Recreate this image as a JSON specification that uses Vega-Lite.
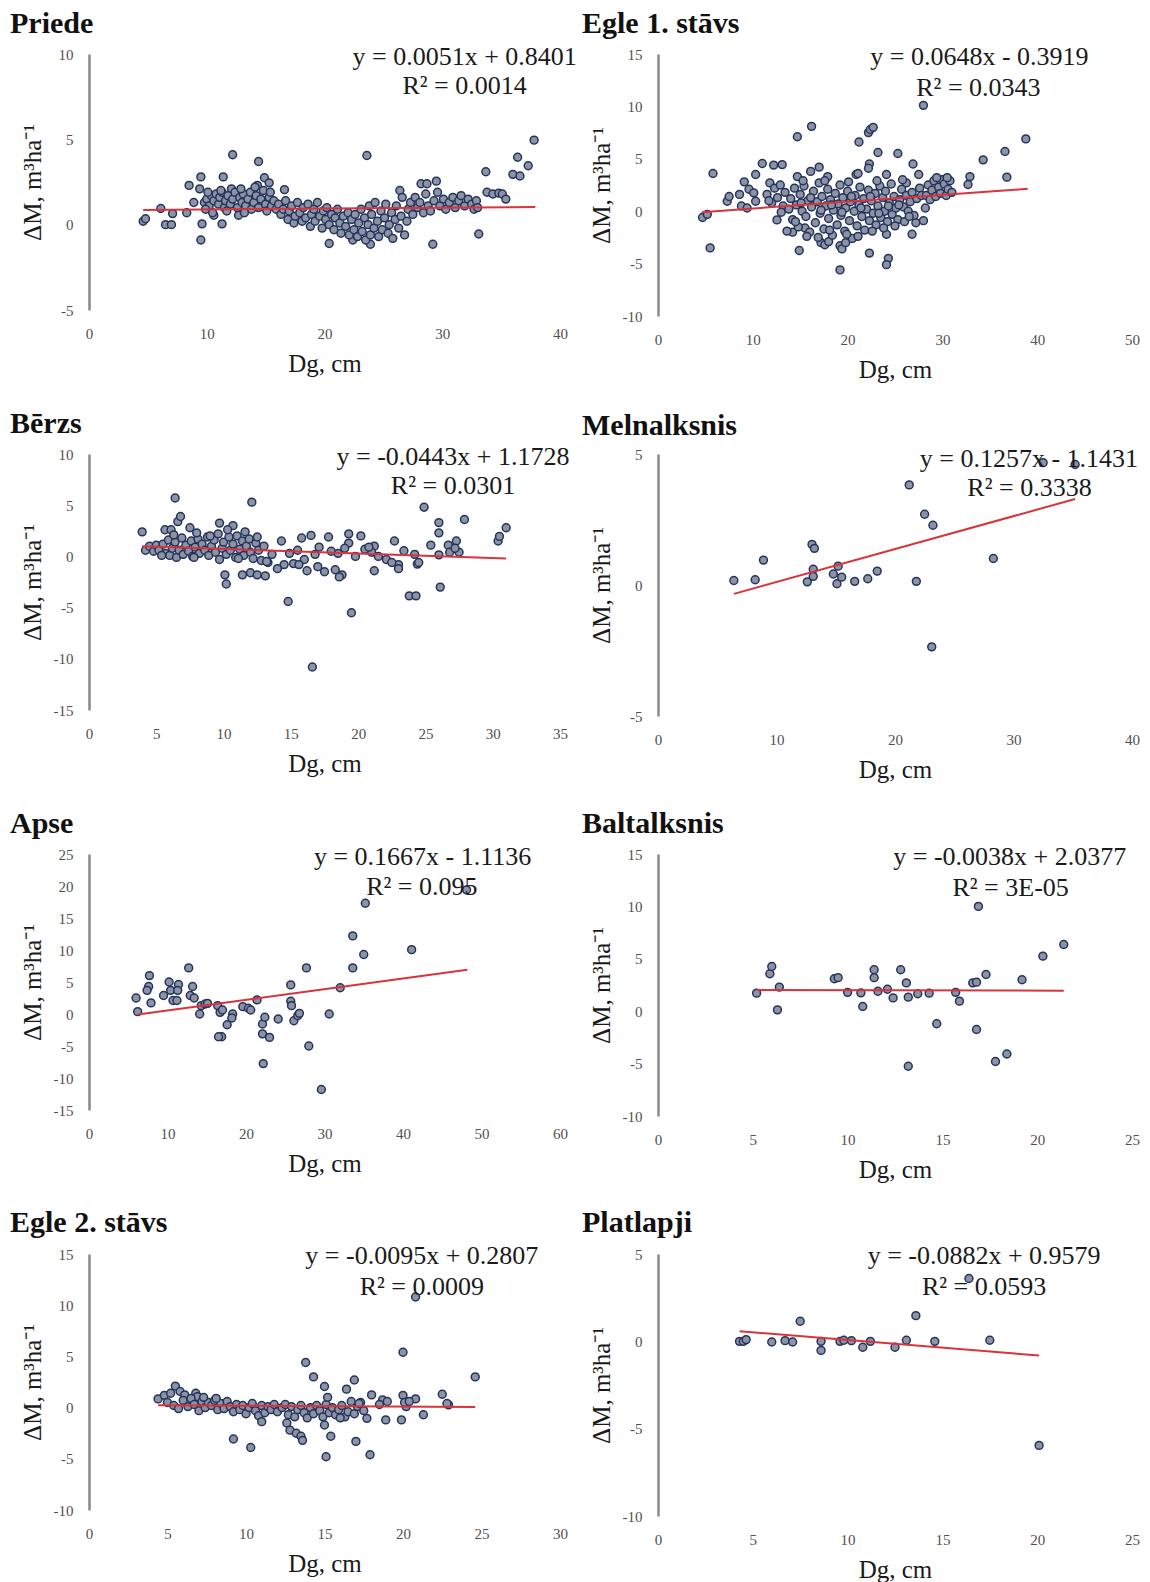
{
"$schema": "https://vega.github.io/schema/vega-lite/v6.json",
"background": "white",
"padding": {"left": 10, "top": 9, "right": 2, "bottom": 2},
"config": {
 "view": {"stroke": null},
 "font": "Liberation Serif",
 "axis": {"grid": false, "ticks": false, "labelFont": "Liberation Serif", "labelFontSize": 15, "labelColor": "#505050", "titleFont": "Liberation Serif", "titleFontSize": 25, "titleFontWeight": "normal", "titleColor": "#1a1a1a", "labelOverlap": false, "labelFlush": false, "labelExpr": "toString(datum.value)"},
 "axisX": {"domain": false, "labelPadding": 16, "titlePadding": 10},
 "axisY": {"domain": true, "domainColor": "#8a8a8a", "domainWidth": 2.5, "labelPadding": 16, "minExtent": 40, "maxExtent": 40, "titlePadding": 4},
 "title": {"font": "Liberation Serif", "fontSize": 30, "fontWeight": "bold", "anchor": "start", "frame": "group", "color": "#111111", "baseline": "alphabetic", "offset": 5},
 "circle": {"size": 62, "fill": "#8d93a3", "stroke": "#22335e", "strokeWidth": 1.5, "opacity": 1},
 "line": {"color": "#d8343b", "strokeWidth": 2},
 "text": {"fontSize": 26, "font": "Liberation Serif", "color": "#1a1a1a", "align": "center", "baseline": "middle"}
},
"datasets": {
 "trend": [
  {"p":"priede","Dg":4.6,"dM":0.863},{"p":"priede","Dg":37.9,"dM":1.033},
  {"p":"egle1","Dg":4.6,"dM":-0.094},{"p":"egle1","Dg":39.0,"dM":2.135},
  {"p":"berzs","Dg":3.95,"dM":0.998},{"p":"berzs","Dg":31.0,"dM":-0.2},
  {"p":"meln","Dg":6.4,"dM":-0.339},{"p":"meln","Dg":35.2,"dM":3.282},
  {"p":"apse","Dg":6.2,"dM":-0.08},{"p":"apse","Dg":48.2,"dM":6.921},
  {"p":"balt","Dg":5.2,"dM":2.018},{"p":"balt","Dg":21.4,"dM":1.956},
  {"p":"egle2","Dg":4.4,"dM":0.239},{"p":"egle2","Dg":24.6,"dM":0.047},
  {"p":"plat","Dg":4.3,"dM":0.579},{"p":"plat","Dg":20.1,"dM":-0.815}
 ],
 "eq": [
  {"p":"priede","Dg":31.9,"dM":9.8,"label":"y = 0.0051x + 0.8401"},{"p":"priede","Dg":31.9,"dM":8.1,"label":"R² = 0.0014"},
  {"p":"egle1","Dg":33.9,"dM":14.7,"label":"y = 0.0648x - 0.3919"},{"p":"egle1","Dg":33.8,"dM":11.8,"label":"R² = 0.0343"},
  {"p":"berzs","Dg":27.05,"dM":9.7,"label":"y = -0.0443x + 1.1728"},{"p":"berzs","Dg":27.05,"dM":6.85,"label":"R² = 0.0301"},
  {"p":"meln","Dg":31.3,"dM":4.8,"label":"y = 0.1257x - 1.1431"},{"p":"meln","Dg":31.35,"dM":3.7,"label":"R² = 0.3338"},
  {"p":"apse","Dg":42.5,"dM":24.5,"label":"y = 0.1667x - 1.1136"},{"p":"apse","Dg":42.4,"dM":19.9,"label":"R² = 0.095"},
  {"p":"balt","Dg":18.55,"dM":14.7,"label":"y = -0.0038x + 2.0377"},{"p":"balt","Dg":18.6,"dM":11.8,"label":"R² = 3E-05"},
  {"p":"egle2","Dg":21.2,"dM":14.8,"label":"y = -0.0095x + 0.2807"},{"p":"egle2","Dg":21.2,"dM":11.8,"label":"R² = 0.0009"},
  {"p":"plat","Dg":17.2,"dM":4.9,"label":"y = -0.0882x + 0.9579"},{"p":"plat","Dg":17.2,"dM":3.1,"label":"R² = 0.0593"}
 ],
 "priede": [
  {"Dg":4.6,"dM":0.2},{"Dg":4.8,"dM":0.35},{"Dg":6.1,"dM":0.95},{"Dg":6.5,"dM":0.0},{"Dg":7.0,"dM":0.0},{"Dg":7.1,"dM":0.65},{"Dg":8.3,"dM":0.7},{"Dg":8.5,"dM":2.3},{"Dg":8.9,"dM":1.3},{"Dg":9.4,"dM":2.1},{"Dg":9.5,"dM":2.8},{"Dg":9.5,"dM":-0.9},{"Dg":9.6,"dM":0.05},{"Dg":10.6,"dM":0.55},{"Dg":11.3,"dM":0.05},{"Dg":11.4,"dM":2.8},{"Dg":12.2,"dM":4.1},{"Dg":12.1,"dM":2.1},{"Dg":12.7,"dM":0.55},{"Dg":14.4,"dM":3.7},{"Dg":14.3,"dM":2.3},{"Dg":14.9,"dM":2.75},{"Dg":15.3,"dM":2.45},{"Dg":16.6,"dM":2.05},{"Dg":20.4,"dM":-1.1},{"Dg":23.6,"dM":4.05},{"Dg":22.4,"dM":-0.9},{"Dg":23.9,"dM":-1.15},{"Dg":26.4,"dM":2.0},{"Dg":28.2,"dM":2.4},{"Dg":28.7,"dM":2.4},{"Dg":29.5,"dM":2.55},{"Dg":29.2,"dM":-1.15},{"Dg":33.1,"dM":-0.55},{"Dg":33.7,"dM":3.1},{"Dg":36.0,"dM":2.95},{"Dg":36.4,"dM":3.95},{"Dg":36.6,"dM":2.85},{"Dg":37.3,"dM":3.45},{"Dg":37.8,"dM":4.95},
  {"Dg":9.8,"dM":1.3},{"Dg":10.0,"dM":1.5},{"Dg":10.2,"dM":1.1},{"Dg":10.4,"dM":1.7},{"Dg":10.6,"dM":1.4},{"Dg":10.8,"dM":1.8},{"Dg":11.0,"dM":1.2},{"Dg":11.1,"dM":1.6},{"Dg":11.3,"dM":1.9},{"Dg":11.5,"dM":1.0},{"Dg":11.6,"dM":1.4},{"Dg":11.8,"dM":1.7},{"Dg":12.0,"dM":1.2},{"Dg":12.2,"dM":1.5},{"Dg":12.4,"dM":1.9},{"Dg":12.6,"dM":1.0},{"Dg":12.8,"dM":1.6},{"Dg":13.0,"dM":1.3},{"Dg":13.1,"dM":1.8},{"Dg":13.3,"dM":1.1},{"Dg":13.5,"dM":1.5},{"Dg":13.7,"dM":1.9},{"Dg":13.8,"dM":0.9},{"Dg":14.0,"dM":1.3},{"Dg":14.2,"dM":1.7},{"Dg":14.4,"dM":1.0},{"Dg":14.6,"dM":1.5},{"Dg":14.8,"dM":2.0},{"Dg":15.0,"dM":1.2},{"Dg":15.1,"dM":0.8},{"Dg":15.3,"dM":1.6},{"Dg":15.5,"dM":1.1},{"Dg":15.7,"dM":1.4},{"Dg":15.9,"dM":0.9},{"Dg":9.9,"dM":0.9},{"Dg":10.5,"dM":0.7},{"Dg":11.7,"dM":0.8},{"Dg":13.2,"dM":0.7},{"Dg":14.1,"dM":2.2},{"Dg":15.4,"dM":1.9},{"Dg":12.9,"dM":2.1},{"Dg":11.2,"dM":2.0},{"Dg":10.1,"dM":1.9},
  {"Dg":16.1,"dM":1.2},{"Dg":16.3,"dM":0.6},{"Dg":16.5,"dM":0.9},{"Dg":16.7,"dM":1.4},{"Dg":16.9,"dM":0.3},{"Dg":17.0,"dM":0.8},{"Dg":17.2,"dM":1.1},{"Dg":17.4,"dM":0.1},{"Dg":17.5,"dM":0.5},{"Dg":17.7,"dM":1.3},{"Dg":17.9,"dM":0.7},{"Dg":18.1,"dM":0.2},{"Dg":18.2,"dM":1.0},{"Dg":18.4,"dM":0.4},{"Dg":18.6,"dM":1.2},{"Dg":18.8,"dM":-0.1},{"Dg":18.9,"dM":0.6},{"Dg":19.1,"dM":0.9},{"Dg":19.2,"dM":0.2},{"Dg":19.4,"dM":1.3},{"Dg":19.6,"dM":0.5},{"Dg":19.8,"dM":-0.2},{"Dg":19.9,"dM":0.8},{"Dg":20.1,"dM":0.3},{"Dg":20.2,"dM":1.0},{"Dg":20.4,"dM":0.0},{"Dg":20.6,"dM":0.6},{"Dg":20.8,"dM":-0.3},{"Dg":20.9,"dM":0.4},{"Dg":21.1,"dM":0.9},{"Dg":21.3,"dM":0.1},{"Dg":21.4,"dM":-0.5},{"Dg":21.6,"dM":0.5},{"Dg":21.8,"dM":-0.1},{"Dg":22.0,"dM":0.7},{"Dg":22.1,"dM":-0.6},{"Dg":22.3,"dM":0.3},
  {"Dg":22.5,"dM":-0.3},{"Dg":22.6,"dM":0.6},{"Dg":22.8,"dM":-0.7},{"Dg":22.9,"dM":0.1},{"Dg":23.1,"dM":0.9},{"Dg":23.2,"dM":-0.4},{"Dg":23.4,"dM":0.4},{"Dg":23.5,"dM":-0.9},{"Dg":23.7,"dM":0.0},{"Dg":23.8,"dM":1.1},{"Dg":23.9,"dM":-0.6},{"Dg":24.0,"dM":0.6},{"Dg":24.2,"dM":-0.2},{"Dg":24.3,"dM":1.3},{"Dg":24.5,"dM":0.2},{"Dg":24.6,"dM":-0.7},{"Dg":24.8,"dM":0.8},{"Dg":24.9,"dM":-0.3},{"Dg":25.1,"dM":0.4},{"Dg":25.2,"dM":1.2},{"Dg":25.4,"dM":-0.5},{"Dg":25.5,"dM":0.0},{"Dg":25.7,"dM":0.7},{"Dg":25.8,"dM":-0.8},{"Dg":26.0,"dM":0.3},{"Dg":26.1,"dM":1.1},{"Dg":26.3,"dM":-0.2},{"Dg":26.5,"dM":0.5},{"Dg":26.6,"dM":1.6},{"Dg":26.8,"dM":-0.6},{"Dg":27.0,"dM":0.2},{"Dg":27.1,"dM":0.9},{"Dg":27.3,"dM":1.3},{"Dg":27.5,"dM":0.6},
  {"Dg":27.7,"dM":1.6},{"Dg":27.9,"dM":1.0},{"Dg":28.1,"dM":1.3},{"Dg":28.4,"dM":0.7},{"Dg":28.6,"dM":1.8},{"Dg":28.8,"dM":1.1},{"Dg":29.0,"dM":0.8},{"Dg":29.3,"dM":1.4},{"Dg":29.6,"dM":1.9},{"Dg":29.8,"dM":1.1},{"Dg":30.1,"dM":1.5},{"Dg":30.3,"dM":0.9},{"Dg":30.6,"dM":1.3},{"Dg":30.9,"dM":1.6},{"Dg":31.1,"dM":1.0},{"Dg":31.4,"dM":1.4},{"Dg":31.6,"dM":1.7},{"Dg":31.9,"dM":1.1},{"Dg":32.2,"dM":1.5},{"Dg":32.5,"dM":1.2},{"Dg":32.7,"dM":0.9},{"Dg":32.9,"dM":1.4},{"Dg":33.0,"dM":1.0},{"Dg":33.8,"dM":1.9},{"Dg":34.3,"dM":1.8},{"Dg":34.8,"dM":1.85},{"Dg":35.1,"dM":1.8},{"Dg":35.4,"dM":1.5}
 ],
 "egle1": [
  {"Dg":4.7,"dM":-0.6},{"Dg":5.2,"dM":-0.3},{"Dg":5.5,"dM":-3.5},{"Dg":5.8,"dM":3.6},{"Dg":7.3,"dM":0.95},{"Dg":7.5,"dM":1.4},{"Dg":8.6,"dM":1.6},{"Dg":8.8,"dM":0.5},{"Dg":9.1,"dM":2.8},{"Dg":9.4,"dM":0.3},{"Dg":9.6,"dM":2.1},{"Dg":10.1,"dM":1.75},{"Dg":10.3,"dM":0.95},{"Dg":10.3,"dM":3.5},{"Dg":11.0,"dM":4.55},{"Dg":12.2,"dM":4.4},{"Dg":13.1,"dM":4.45},{"Dg":12.55,"dM":-0.83},{"Dg":14.7,"dM":7.1},{"Dg":16.2,"dM":8.1},{"Dg":14.7,"dM":3.3},{"Dg":16.1,"dM":3.8},{"Dg":17.0,"dM":4.2},{"Dg":14.9,"dM":-3.75},{"Dg":17.9,"dM":3.3},{"Dg":19.2,"dM":-5.6},{"Dg":21.2,"dM":6.6},{"Dg":22.2,"dM":7.5},{"Dg":22.4,"dM":7.8},{"Dg":22.7,"dM":8.0},{"Dg":23.2,"dM":5.6},{"Dg":25.3,"dM":5.5},{"Dg":20.9,"dM":3.5},{"Dg":21.1,"dM":3.6},{"Dg":22.3,"dM":4.5},{"Dg":22.2,"dM":4.1},{"Dg":22.3,"dM":-4.0},{"Dg":24.3,"dM":-4.5},{"Dg":24.1,"dM":-5.1},{"Dg":24.1,"dM":-2.2},{"Dg":24.1,"dM":3.5},{"Dg":26.2,"dM":2.7},{"Dg":26.9,"dM":4.5},{"Dg":27.5,"dM":3.5},{"Dg":26.8,"dM":-2.2},{"Dg":28.0,"dM":10.1},{"Dg":32.7,"dM":2.55},{"Dg":32.9,"dM":3.3},{"Dg":34.3,"dM":4.9},{"Dg":36.6,"dM":5.7},{"Dg":36.8,"dM":3.25},{"Dg":38.8,"dM":6.9},{"Dg":17.2,"dM":-3.0},{"Dg":17.6,"dM":-3.2},{"Dg":18.0,"dM":-2.9},{"Dg":19.2,"dM":-3.3},{"Dg":19.4,"dM":-3.6},{"Dg":19.8,"dM":-3.0},{"Dg":15.5,"dM":-1.6},{"Dg":14.2,"dM":-2.0},{"Dg":13.6,"dM":-1.9},{"Dg":27.2,"dM":-1.1},{"Dg":28.0,"dM":-0.9},{"Dg":28.2,"dM":0.3},
  {"Dg":11.5,"dM":1.6},{"Dg":11.8,"dM":2.7},{"Dg":12.0,"dM":0.8},{"Dg":12.3,"dM":2.2},{"Dg":12.6,"dM":1.3},{"Dg":12.9,"dM":2.5},{"Dg":13.2,"dM":0.5},{"Dg":13.4,"dM":1.8},{"Dg":11.7,"dM":1.0},{"Dg":13.0,"dM":-0.1},
  {"Dg":13.8,"dM":0.2},{"Dg":14.0,"dM":1.2},{"Dg":14.2,"dM":-0.8},{"Dg":14.4,"dM":2.2},{"Dg":14.6,"dM":0.6},{"Dg":14.8,"dM":-1.5},{"Dg":15.0,"dM":1.6},{"Dg":15.2,"dM":0.0},{"Dg":15.4,"dM":2.4},{"Dg":15.6,"dM":-0.5},{"Dg":15.8,"dM":1.0},{"Dg":16.0,"dM":-2.0},{"Dg":16.2,"dM":0.4},{"Dg":16.4,"dM":1.9},{"Dg":16.6,"dM":-1.1},{"Dg":16.8,"dM":0.9},{"Dg":17.0,"dM":2.7},{"Dg":17.1,"dM":-0.2},{"Dg":17.3,"dM":1.4},{"Dg":17.5,"dM":-1.7},{"Dg":17.7,"dM":0.5},{"Dg":17.9,"dM":2.1},{"Dg":18.0,"dM":-0.7},{"Dg":18.2,"dM":1.1},{"Dg":18.4,"dM":-2.3},{"Dg":18.5,"dM":0.1},{"Dg":18.7,"dM":1.7},{"Dg":18.9,"dM":-1.3},{"Dg":19.0,"dM":0.7},{"Dg":19.2,"dM":2.5},{"Dg":19.3,"dM":-0.4},{"Dg":19.5,"dM":1.3},{"Dg":19.7,"dM":-1.9},{"Dg":19.8,"dM":0.3},{"Dg":20.0,"dM":1.9},{"Dg":20.2,"dM":-0.9},{"Dg":20.3,"dM":0.9},{"Dg":20.5,"dM":-2.6},{"Dg":20.7,"dM":0.0},{"Dg":20.8,"dM":1.5},{"Dg":21.0,"dM":-1.4},{"Dg":21.2,"dM":0.6},{"Dg":21.3,"dM":2.3},{"Dg":21.5,"dM":-0.5},{"Dg":21.7,"dM":1.2},{"Dg":21.8,"dM":-1.8},{"Dg":22.0,"dM":0.2},{"Dg":22.2,"dM":2.0},{"Dg":22.3,"dM":-0.9},{"Dg":22.5,"dM":1.0},{"Dg":22.7,"dM":-0.2},{"Dg":22.9,"dM":1.7},{"Dg":23.0,"dM":-1.3},{"Dg":23.2,"dM":0.5},{"Dg":23.4,"dM":2.4},{"Dg":23.5,"dM":-0.6},{"Dg":23.7,"dM":1.3},{"Dg":23.9,"dM":0.0},{"Dg":24.0,"dM":1.9},{"Dg":24.2,"dM":-1.0},{"Dg":24.4,"dM":0.8},{"Dg":24.6,"dM":2.6},{"Dg":24.7,"dM":-0.3},{"Dg":24.9,"dM":1.4},{"Dg":25.1,"dM":0.3},{"Dg":25.3,"dM":-0.8},{"Dg":25.5,"dM":1.1},{"Dg":25.7,"dM":2.1},{"Dg":25.9,"dM":0.4},{"Dg":26.0,"dM":-1.0},{"Dg":26.2,"dM":1.5},{"Dg":26.4,"dM":0.0},{"Dg":26.6,"dM":0.9},{"Dg":26.8,"dM":1.8},{"Dg":27.0,"dM":-0.4},{"Dg":27.3,"dM":1.2},{"Dg":27.6,"dM":2.2},{"Dg":27.8,"dM":1.5},{"Dg":14.5,"dM":-1.0},{"Dg":15.1,"dM":0.8},{"Dg":16.1,"dM":1.3},{"Dg":17.2,"dM":0.1},{"Dg":18.3,"dM":0.6},{"Dg":19.4,"dM":-0.1},{"Dg":20.4,"dM":1.4},{"Dg":21.4,"dM":0.3},{"Dg":22.4,"dM":1.4},{"Dg":23.3,"dM":-0.2},{"Dg":24.3,"dM":0.5},{"Dg":25.4,"dM":0.6},{"Dg":26.5,"dM":-0.5},{"Dg":15.7,"dM":-2.4},{"Dg":16.9,"dM":-2.5},{"Dg":18.1,"dM":-1.8},{"Dg":19.9,"dM":-2.2},{"Dg":21.1,"dM":-2.4},{"Dg":22.6,"dM":-1.9},{"Dg":23.8,"dM":-1.6},{"Dg":25.0,"dM":-1.4},{"Dg":15.3,"dM":2.9},{"Dg":17.6,"dM":2.9},{"Dg":20.1,"dM":2.8},{"Dg":23.1,"dM":2.9},{"Dg":25.8,"dM":3.0},
  {"Dg":28.3,"dM":1.5},{"Dg":28.5,"dM":2.5},{"Dg":28.7,"dM":1.1},{"Dg":28.9,"dM":2.0},{"Dg":29.1,"dM":2.9},{"Dg":29.3,"dM":1.4},{"Dg":29.6,"dM":2.3},{"Dg":29.8,"dM":1.7},{"Dg":30.0,"dM":3.0},{"Dg":30.2,"dM":2.6},{"Dg":30.4,"dM":1.5},{"Dg":30.6,"dM":2.1},{"Dg":30.8,"dM":2.9},{"Dg":31.0,"dM":1.8},{"Dg":29.4,"dM":3.2},{"Dg":30.5,"dM":3.2}
 ],
 "berzs": [
  {"Dg":3.95,"dM":2.4},{"Dg":6.4,"dM":5.7},{"Dg":6.6,"dM":3.4},{"Dg":6.8,"dM":3.9},{"Dg":5.65,"dM":2.6},{"Dg":6.1,"dM":2.6},{"Dg":7.5,"dM":2.8},{"Dg":9.7,"dM":3.25},{"Dg":10.7,"dM":3.0},{"Dg":12.1,"dM":5.3},{"Dg":10.1,"dM":-1.8},{"Dg":10.2,"dM":-2.7},{"Dg":11.4,"dM":-1.8},{"Dg":12.0,"dM":-1.6},{"Dg":12.5,"dM":-1.8},{"Dg":13.1,"dM":-1.9},{"Dg":14.8,"dM":-4.4},{"Dg":16.6,"dM":-10.8},{"Dg":19.5,"dM":-5.5},{"Dg":26.1,"dM":-3.0},{"Dg":23.8,"dM":-3.85},{"Dg":24.3,"dM":-3.85},{"Dg":23.0,"dM":-0.8},{"Dg":23.0,"dM":-1.2},{"Dg":24.4,"dM":-0.75},{"Dg":24.5,"dM":-0.6},{"Dg":21.2,"dM":-1.4},{"Dg":18.8,"dM":-1.8},{"Dg":18.6,"dM":-2.0},{"Dg":18.3,"dM":-1.3},{"Dg":17.5,"dM":-1.5},{"Dg":22.7,"dM":1.5},{"Dg":24.9,"dM":4.8},{"Dg":25.4,"dM":1.1},{"Dg":26.0,"dM":3.3},{"Dg":26.0,"dM":2.3},{"Dg":26.0,"dM":0.15},{"Dg":26.7,"dM":1.1},{"Dg":27.3,"dM":1.5},{"Dg":27.5,"dM":0.4},{"Dg":26.8,"dM":0.4},{"Dg":27.2,"dM":0.8},{"Dg":27.9,"dM":3.6},{"Dg":30.4,"dM":1.5},{"Dg":30.5,"dM":1.95},{"Dg":31.0,"dM":2.8},{"Dg":23.4,"dM":0.55},{"Dg":24.2,"dM":0.2},{"Dg":20.2,"dM":2.0},{"Dg":21.2,"dM":1.0},{"Dg":21.0,"dM":0.4},{"Dg":19.3,"dM":2.2},{"Dg":19.3,"dM":1.3},{"Dg":17.8,"dM":1.9},{"Dg":16.5,"dM":2.05},{"Dg":15.8,"dM":1.8},{"Dg":14.3,"dM":1.5},{"Dg":22.1,"dM":-0.3},{"Dg":20.5,"dM":0.7},{"Dg":19.8,"dM":0.0},{"Dg":18.5,"dM":0.3},{"Dg":17.1,"dM":0.9},{"Dg":16.8,"dM":0.2},{"Dg":16.0,"dM":-0.3},{"Dg":15.5,"dM":0.6},{"Dg":15.2,"dM":-0.7},{"Dg":14.9,"dM":0.3},{"Dg":14.5,"dM":-0.8},{"Dg":14.0,"dM":-1.2},{"Dg":13.6,"dM":0.2},{"Dg":13.3,"dM":-0.6},{"Dg":17.0,"dM":-1.0},{"Dg":16.2,"dM":-1.4},{"Dg":15.6,"dM":-0.8},{"Dg":20.8,"dM":0.9},{"Dg":21.5,"dM":0.0},{"Dg":22.5,"dM":-0.6},{"Dg":19.0,"dM":0.8},{"Dg":18.0,"dM":0.5},
  {"Dg":4.2,"dM":0.6},{"Dg":4.5,"dM":1.0},{"Dg":4.8,"dM":0.5},{"Dg":5.0,"dM":1.1},{"Dg":5.2,"dM":0.6},{"Dg":5.5,"dM":1.2},{"Dg":5.7,"dM":0.3},{"Dg":5.9,"dM":1.6},{"Dg":6.0,"dM":0.1},{"Dg":6.2,"dM":0.8},{"Dg":6.4,"dM":1.4},{"Dg":6.5,"dM":-0.1},{"Dg":6.7,"dM":0.6},{"Dg":6.9,"dM":1.8},{"Dg":7.0,"dM":0.2},{"Dg":7.2,"dM":1.1},{"Dg":7.4,"dM":0.5},{"Dg":7.6,"dM":1.5},{"Dg":7.7,"dM":0.0},{"Dg":7.9,"dM":0.9},{"Dg":8.1,"dM":1.7},{"Dg":8.2,"dM":0.3},{"Dg":8.4,"dM":1.2},{"Dg":8.6,"dM":0.6},{"Dg":8.8,"dM":1.9},{"Dg":8.9,"dM":0.1},{"Dg":9.1,"dM":1.0},{"Dg":9.3,"dM":1.6},{"Dg":9.4,"dM":0.4},{"Dg":9.6,"dM":2.2},{"Dg":9.7,"dM":-0.3},{"Dg":9.9,"dM":0.8},{"Dg":10.0,"dM":1.4},{"Dg":10.2,"dM":0.2},{"Dg":10.4,"dM":1.9},{"Dg":10.5,"dM":0.6},{"Dg":10.7,"dM":1.2},{"Dg":10.9,"dM":-0.1},{"Dg":11.0,"dM":2.0},{"Dg":11.2,"dM":0.7},{"Dg":11.4,"dM":1.5},{"Dg":11.5,"dM":0.1},{"Dg":11.7,"dM":1.0},{"Dg":11.9,"dM":1.7},{"Dg":12.0,"dM":0.4},{"Dg":12.2,"dM":-0.2},{"Dg":12.4,"dM":1.3},{"Dg":12.6,"dM":0.6},{"Dg":12.8,"dM":-0.4},{"Dg":13.0,"dM":1.0},{"Dg":13.2,"dM":-0.5},{"Dg":12.5,"dM":1.9},{"Dg":10.3,"dM":2.6},{"Dg":11.6,"dM":2.4},{"Dg":8.0,"dM":2.3},{"Dg":9.0,"dM":2.0},{"Dg":6.3,"dM":2.1},{"Dg":7.8,"dM":-0.1},{"Dg":5.4,"dM":0.1},{"Dg":11.1,"dM":-0.2}
 ],
 "meln": [
  {"Dg":6.4,"dM":0.17},{"Dg":8.2,"dM":0.2},{"Dg":8.9,"dM":0.95},{"Dg":12.6,"dM":0.12},{"Dg":13.0,"dM":1.55},{"Dg":13.2,"dM":1.4},{"Dg":13.1,"dM":0.6},{"Dg":13.1,"dM":0.33},{"Dg":14.8,"dM":0.42},{"Dg":15.2,"dM":0.72},{"Dg":15.1,"dM":0.05},{"Dg":15.5,"dM":0.3},{"Dg":16.6,"dM":0.14},{"Dg":17.7,"dM":0.24},{"Dg":18.5,"dM":0.53},{"Dg":21.2,"dM":3.82},{"Dg":21.8,"dM":0.14},{"Dg":22.5,"dM":2.7},{"Dg":23.2,"dM":2.28},{"Dg":23.1,"dM":-2.36},{"Dg":28.3,"dM":1.01},{"Dg":32.5,"dM":4.67},{"Dg":35.2,"dM":4.6}
 ],
 "apse": [
  {"Dg":6.0,"dM":2.5},{"Dg":6.2,"dM":0.37},{"Dg":7.6,"dM":4.3},{"Dg":7.4,"dM":3.7},{"Dg":7.7,"dM":6.0},{"Dg":7.9,"dM":1.73},{"Dg":9.5,"dM":2.9},{"Dg":10.2,"dM":5.0},{"Dg":10.4,"dM":3.7},{"Dg":10.7,"dM":2.1},{"Dg":11.2,"dM":2.1},{"Dg":11.4,"dM":4.6},{"Dg":11.3,"dM":3.7},{"Dg":12.7,"dM":7.2},{"Dg":13.2,"dM":4.3},{"Dg":12.9,"dM":2.9},{"Dg":13.4,"dM":2.5},{"Dg":14.1,"dM":0.0},{"Dg":14.3,"dM":1.3},{"Dg":14.8,"dM":1.57},{"Dg":15.1,"dM":1.67},{"Dg":16.4,"dM":1.3},{"Dg":16.7,"dM":0.26},{"Dg":16.9,"dM":-3.56},{"Dg":16.5,"dM":-3.56},{"Dg":17.0,"dM":0.63},{"Dg":17.6,"dM":-1.68},{"Dg":18.3,"dM":0.0},{"Dg":18.2,"dM":-0.63},{"Dg":19.6,"dM":1.15},{"Dg":20.3,"dM":0.9},{"Dg":20.6,"dM":0.63},{"Dg":21.4,"dM":2.2},{"Dg":22.1,"dM":-1.57},{"Dg":22.4,"dM":-0.5},{"Dg":22.1,"dM":-3.1},{"Dg":23.0,"dM":-3.66},{"Dg":22.2,"dM":-7.75},{"Dg":24.1,"dM":-0.79},{"Dg":25.7,"dM":4.55},{"Dg":25.7,"dM":2.0},{"Dg":25.8,"dM":1.3},{"Dg":26.1,"dM":-1.05},{"Dg":26.6,"dM":-0.26},{"Dg":26.8,"dM":0.1},{"Dg":27.7,"dM":7.2},{"Dg":28.0,"dM":-5.0},{"Dg":29.6,"dM":-11.8},{"Dg":30.6,"dM":0.0},{"Dg":32.0,"dM":4.1},{"Dg":33.6,"dM":7.2},{"Dg":33.6,"dM":12.2},{"Dg":35.0,"dM":9.3},{"Dg":35.2,"dM":17.3},{"Dg":41.1,"dM":10.05},{"Dg":48.1,"dM":19.4}
 ],
 "balt": [
  {"Dg":5.2,"dM":1.72},{"Dg":5.9,"dM":3.57},{"Dg":6.0,"dM":4.27},{"Dg":6.4,"dM":2.3},{"Dg":6.3,"dM":0.13},{"Dg":9.3,"dM":3.1},{"Dg":9.5,"dM":3.2},{"Dg":10.0,"dM":1.8},{"Dg":10.7,"dM":1.75},{"Dg":10.8,"dM":0.45},{"Dg":11.4,"dM":3.95},{"Dg":11.4,"dM":3.2},{"Dg":11.6,"dM":1.9},{"Dg":12.1,"dM":2.1},{"Dg":12.4,"dM":1.27},{"Dg":12.8,"dM":3.95},{"Dg":13.1,"dM":2.7},{"Dg":13.2,"dM":-5.25},{"Dg":13.2,"dM":1.34},{"Dg":13.7,"dM":1.66},{"Dg":14.3,"dM":1.72},{"Dg":14.7,"dM":-1.2},{"Dg":15.7,"dM":1.8},{"Dg":15.9,"dM":0.96},{"Dg":16.6,"dM":2.7},{"Dg":16.8,"dM":2.77},{"Dg":16.8,"dM":-1.75},{"Dg":16.9,"dM":10.0},{"Dg":17.3,"dM":3.5},{"Dg":17.8,"dM":-4.8},{"Dg":18.4,"dM":-4.08},{"Dg":19.2,"dM":3.0},{"Dg":20.3,"dM":5.25},{"Dg":21.4,"dM":6.37}
 ],
 "egle2": [
  {"Dg":4.4,"dM":0.85},{"Dg":4.8,"dM":1.2},{"Dg":5.2,"dM":1.4},{"Dg":5.5,"dM":2.1},{"Dg":5.8,"dM":1.57},{"Dg":6.1,"dM":1.24},{"Dg":6.8,"dM":1.4},{"Dg":6.9,"dM":1.07},{"Dg":5.0,"dM":0.5},{"Dg":5.4,"dM":0.2},{"Dg":5.7,"dM":-0.1},{"Dg":6.0,"dM":0.7},{"Dg":6.3,"dM":0.1},{"Dg":6.5,"dM":0.9},{"Dg":6.7,"dM":0.3},{"Dg":7.0,"dM":-0.3},{"Dg":7.2,"dM":0.6},{"Dg":7.4,"dM":0.0},{"Dg":7.6,"dM":0.5},{"Dg":7.8,"dM":0.2},{"Dg":8.0,"dM":0.7},{"Dg":8.2,"dM":-0.2},{"Dg":8.4,"dM":0.4},{"Dg":8.6,"dM":-0.1},{"Dg":8.8,"dM":0.6},{"Dg":9.0,"dM":0.1},{"Dg":9.2,"dM":-0.4},{"Dg":9.4,"dM":0.3},{"Dg":9.6,"dM":-0.2},{"Dg":9.8,"dM":0.2},{"Dg":10.0,"dM":-0.6},{"Dg":10.2,"dM":0.0},{"Dg":10.4,"dM":0.4},{"Dg":10.6,"dM":-0.3},{"Dg":10.8,"dM":-0.8},{"Dg":11.0,"dM":0.2},{"Dg":11.2,"dM":-0.5},{"Dg":11.4,"dM":0.1},{"Dg":11.6,"dM":-0.2},{"Dg":11.8,"dM":0.3},{"Dg":12.0,"dM":-0.4},{"Dg":12.3,"dM":0.0},{"Dg":12.5,"dM":0.3},{"Dg":12.7,"dM":-0.7},{"Dg":12.9,"dM":0.1},{"Dg":13.1,"dM":-0.9},{"Dg":13.3,"dM":-0.2},{"Dg":13.5,"dM":0.2},{"Dg":13.7,"dM":-0.5},{"Dg":13.9,"dM":-1.0},{"Dg":14.1,"dM":0.0},{"Dg":14.3,"dM":-0.6},{"Dg":14.5,"dM":0.2},{"Dg":14.7,"dM":-0.3},{"Dg":14.9,"dM":-0.9},{"Dg":15.1,"dM":0.3},{"Dg":15.3,"dM":-0.5},{"Dg":15.5,"dM":0.0},{"Dg":15.7,"dM":-0.7},{"Dg":15.9,"dM":-0.2},{"Dg":16.1,"dM":0.2},{"Dg":16.3,"dM":-0.9},{"Dg":16.5,"dM":-0.4},{"Dg":16.7,"dM":0.6},{"Dg":16.9,"dM":-0.6},{"Dg":17.1,"dM":0.1},{"Dg":17.3,"dM":0.5},{"Dg":17.5,"dM":-0.3},{"Dg":11.0,"dM":-1.37},{"Dg":9.2,"dM":-3.07},{"Dg":10.3,"dM":-3.9},{"Dg":12.6,"dM":-1.5},{"Dg":12.8,"dM":-2.2},{"Dg":13.2,"dM":-2.5},{"Dg":13.5,"dM":-2.8},{"Dg":13.6,"dM":-3.2},{"Dg":13.8,"dM":4.4},{"Dg":14.3,"dM":3.0},{"Dg":15.0,"dM":2.06},{"Dg":15.2,"dM":1.0},{"Dg":15.0,"dM":-1.7},{"Dg":15.4,"dM":-2.8},{"Dg":15.1,"dM":-4.8},{"Dg":16.4,"dM":1.8},{"Dg":16.9,"dM":2.7},{"Dg":17.7,"dM":-1.05},{"Dg":17.9,"dM":-4.6},{"Dg":17.0,"dM":-3.3},{"Dg":18.0,"dM":1.24},{"Dg":18.7,"dM":0.75},{"Dg":18.9,"dM":-1.2},{"Dg":19.9,"dM":-1.2},{"Dg":20.0,"dM":1.2},{"Dg":20.2,"dM":0.1},{"Dg":20.8,"dM":0.85},{"Dg":21.3,"dM":-0.7},{"Dg":22.5,"dM":1.3},{"Dg":22.9,"dM":0.26},{"Dg":24.6,"dM":3.0},{"Dg":20.8,"dM":10.8},{"Dg":20.0,"dM":5.4},{"Dg":18.5,"dM":0.3},{"Dg":19.0,"dM":0.6},{"Dg":20.1,"dM":0.5},{"Dg":20.4,"dM":0.6},{"Dg":22.8,"dM":0.4},{"Dg":16.0,"dM":-1.0},{"Dg":17.2,"dM":0.4},{"Dg":7.3,"dM":1.0},{"Dg":8.1,"dM":0.9}
 ],
 "plat": [
  {"Dg":4.3,"dM":0.0},{"Dg":4.5,"dM":0.0},{"Dg":4.65,"dM":0.1},{"Dg":6.0,"dM":-0.04},{"Dg":6.7,"dM":0.04},{"Dg":7.1,"dM":-0.04},{"Dg":7.5,"dM":1.15},{"Dg":8.6,"dM":0.0},{"Dg":8.6,"dM":-0.52},{"Dg":9.6,"dM":0.0},{"Dg":9.8,"dM":0.06},{"Dg":10.2,"dM":0.04},{"Dg":10.8,"dM":-0.34},{"Dg":11.2,"dM":0.0},{"Dg":12.5,"dM":-0.34},{"Dg":13.1,"dM":0.06},{"Dg":13.6,"dM":1.47},{"Dg":14.6,"dM":0.0},{"Dg":16.4,"dM":3.6},{"Dg":17.5,"dM":0.06},{"Dg":20.1,"dM":-5.96}
 ]
},
"columns": 2,
"spacing": {"row": 138, "column": 98},
"bounds": "flush",
"concat": [
 {"title": {"text": "Priede", "dx": -79}, "width": 471, "height": 256,
  "encoding": {"x": {"field": "Dg", "type": "quantitative", "scale": {"domain": [0, 40], "nice": false, "zero": false}, "axis": {"values": [0, 10, 20, 30, 40], "title": "Dg, cm"}},
               "y": {"field": "dM", "type": "quantitative", "scale": {"domain": [-5, 10], "nice": false, "zero": false}, "axis": {"values": [-5, 0, 5, 10], "title": "ΔM, m³ha⁻¹"}}},
  "layer": [
   {"data": {"values": [{}]}, "mark": {"type": "rule", "color": "#6b6b6b", "strokeWidth": 1.8}, "encoding": {"x": {"datum": 0, "type": "quantitative"}, "x2": {"datum": 40}, "y": {"datum": 0, "type": "quantitative"}}},
   {"data": {"name": "priede"}, "mark": "circle"},
   {"data": {"name": "trend"}, "transform": [{"filter": "datum.p == 'priede'"}], "mark": "line"},
   {"data": {"name": "eq"}, "transform": [{"filter": "datum.p == 'priede'"}], "mark": "text", "encoding": {"text": {"field": "label"}}}
  ]},
 {"title": {"text": "Egle 1. stāvs", "dx": -76}, "width": 474, "height": 262,
  "encoding": {"x": {"field": "Dg", "type": "quantitative", "scale": {"domain": [0, 50], "nice": false, "zero": false}, "axis": {"values": [0, 10, 20, 30, 40, 50], "title": "Dg, cm"}},
               "y": {"field": "dM", "type": "quantitative", "scale": {"domain": [-10, 15], "nice": false, "zero": false}, "axis": {"values": [-10, -5, 0, 5, 10, 15], "title": "ΔM, m³ha⁻¹"}}},
  "layer": [
   {"data": {"values": [{}]}, "mark": {"type": "rule", "color": "#6b6b6b", "strokeWidth": 1.8}, "encoding": {"x": {"datum": 0, "type": "quantitative"}, "x2": {"datum": 50}, "y": {"datum": 0, "type": "quantitative"}}},
   {"data": {"name": "egle1"}, "mark": "circle"},
   {"data": {"name": "trend"}, "transform": [{"filter": "datum.p == 'egle1'"}], "mark": "line"},
   {"data": {"name": "eq"}, "transform": [{"filter": "datum.p == 'egle1'"}], "mark": "text", "encoding": {"text": {"field": "label"}}}
  ]},
 {"title": {"text": "Bērzs", "dx": -79}, "width": 471, "height": 256,
  "encoding": {"x": {"field": "Dg", "type": "quantitative", "scale": {"domain": [0, 35], "nice": false, "zero": false}, "axis": {"values": [0, 5, 10, 15, 20, 25, 30, 35], "title": "Dg, cm"}},
               "y": {"field": "dM", "type": "quantitative", "scale": {"domain": [-15, 10], "nice": false, "zero": false}, "axis": {"values": [-15, -10, -5, 0, 5, 10], "title": "ΔM, m³ha⁻¹"}}},
  "layer": [
   {"data": {"values": [{}]}, "mark": {"type": "rule", "color": "#333333", "strokeWidth": 1.2}, "encoding": {"x": {"datum": 0, "type": "quantitative"}, "x2": {"datum": 35}, "y": {"datum": 0, "type": "quantitative"}}},
   {"data": {"name": "berzs"}, "mark": "circle"},
   {"data": {"name": "trend"}, "transform": [{"filter": "datum.p == 'berzs'"}], "mark": "line"},
   {"data": {"name": "eq"}, "transform": [{"filter": "datum.p == 'berzs'"}], "mark": "text", "encoding": {"text": {"field": "label"}}}
  ]},
 {"title": {"text": "Melnalksnis", "dx": -76}, "width": 474, "height": 262,
  "encoding": {"x": {"field": "Dg", "type": "quantitative", "scale": {"domain": [0, 40], "nice": false, "zero": false}, "axis": {"values": [0, 10, 20, 30, 40], "title": "Dg, cm"}},
               "y": {"field": "dM", "type": "quantitative", "scale": {"domain": [-5, 5], "nice": false, "zero": false}, "axis": {"values": [-5, 0, 5], "title": "ΔM, m³ha⁻¹"}}},
  "layer": [
   {"data": {"values": [{}]}, "mark": {"type": "rule", "color": "#6b6b6b", "strokeWidth": 1.8}, "encoding": {"x": {"datum": 0, "type": "quantitative"}, "x2": {"datum": 40}, "y": {"datum": 0, "type": "quantitative"}}},
   {"data": {"name": "meln"}, "mark": "circle"},
   {"data": {"name": "trend"}, "transform": [{"filter": "datum.p == 'meln'"}], "mark": "line"},
   {"data": {"name": "eq"}, "transform": [{"filter": "datum.p == 'meln'"}], "mark": "text", "encoding": {"text": {"field": "label"}}}
  ]},
 {"title": {"text": "Apse", "dx": -79}, "width": 471, "height": 256,
  "encoding": {"x": {"field": "Dg", "type": "quantitative", "scale": {"domain": [0, 60], "nice": false, "zero": false}, "axis": {"values": [0, 10, 20, 30, 40, 50, 60], "title": "Dg, cm"}},
               "y": {"field": "dM", "type": "quantitative", "scale": {"domain": [-15, 25], "nice": false, "zero": false}, "axis": {"values": [-15, -10, -5, 0, 5, 10, 15, 20, 25], "title": "ΔM, m³ha⁻¹"}}},
  "layer": [
   {"data": {"values": [{}]}, "mark": {"type": "rule", "color": "#6b6b6b", "strokeWidth": 1.8}, "encoding": {"x": {"datum": 0, "type": "quantitative"}, "x2": {"datum": 60}, "y": {"datum": 0, "type": "quantitative"}}},
   {"data": {"name": "apse"}, "mark": "circle"},
   {"data": {"name": "trend"}, "transform": [{"filter": "datum.p == 'apse'"}], "mark": "line"},
   {"data": {"name": "eq"}, "transform": [{"filter": "datum.p == 'apse'"}], "mark": "text", "encoding": {"text": {"field": "label"}}}
  ]},
 {"title": {"text": "Baltalksnis", "dx": -76}, "width": 474, "height": 262,
  "encoding": {"x": {"field": "Dg", "type": "quantitative", "scale": {"domain": [0, 25], "nice": false, "zero": false}, "axis": {"values": [0, 5, 10, 15, 20, 25], "title": "Dg, cm"}},
               "y": {"field": "dM", "type": "quantitative", "scale": {"domain": [-10, 15], "nice": false, "zero": false}, "axis": {"values": [-10, -5, 0, 5, 10, 15], "title": "ΔM, m³ha⁻¹"}}},
  "layer": [
   {"data": {"values": [{}]}, "mark": {"type": "rule", "color": "#333333", "strokeWidth": 1.2}, "encoding": {"x": {"datum": 0, "type": "quantitative"}, "x2": {"datum": 25}, "y": {"datum": 0, "type": "quantitative"}}},
   {"data": {"name": "balt"}, "mark": "circle"},
   {"data": {"name": "trend"}, "transform": [{"filter": "datum.p == 'balt'"}], "mark": "line"},
   {"data": {"name": "eq"}, "transform": [{"filter": "datum.p == 'balt'"}], "mark": "text", "encoding": {"text": {"field": "label"}}}
  ]},
 {"title": {"text": "Egle 2. stāvs", "dx": -79}, "width": 471, "height": 256,
  "encoding": {"x": {"field": "Dg", "type": "quantitative", "scale": {"domain": [0, 30], "nice": false, "zero": false}, "axis": {"values": [0, 5, 10, 15, 20, 25, 30], "title": "Dg, cm"}},
               "y": {"field": "dM", "type": "quantitative", "scale": {"domain": [-10, 15], "nice": false, "zero": false}, "axis": {"values": [-10, -5, 0, 5, 10, 15], "title": "ΔM, m³ha⁻¹"}}},
  "layer": [
   {"data": {"values": [{}]}, "mark": {"type": "rule", "color": "#6b6b6b", "strokeWidth": 1.8}, "encoding": {"x": {"datum": 0, "type": "quantitative"}, "x2": {"datum": 30}, "y": {"datum": 0, "type": "quantitative"}}},
   {"data": {"name": "egle2"}, "mark": "circle"},
   {"data": {"name": "trend"}, "transform": [{"filter": "datum.p == 'egle2'"}], "mark": "line"},
   {"data": {"name": "eq"}, "transform": [{"filter": "datum.p == 'egle2'"}], "mark": "text", "encoding": {"text": {"field": "label"}}}
  ]},
 {"title": {"text": "Platlapji", "dx": -76}, "width": 474, "height": 262,
  "encoding": {"x": {"field": "Dg", "type": "quantitative", "scale": {"domain": [0, 25], "nice": false, "zero": false}, "axis": {"values": [0, 5, 10, 15, 20, 25], "title": "Dg, cm"}},
               "y": {"field": "dM", "type": "quantitative", "scale": {"domain": [-10, 5], "nice": false, "zero": false}, "axis": {"values": [-10, -5, 0, 5], "title": "ΔM, m³ha⁻¹"}}},
  "layer": [
   {"data": {"values": [{}]}, "mark": {"type": "rule", "color": "#333333", "strokeWidth": 1.2}, "encoding": {"x": {"datum": 0, "type": "quantitative"}, "x2": {"datum": 25}, "y": {"datum": 0, "type": "quantitative"}}},
   {"data": {"name": "plat"}, "mark": "circle"},
   {"data": {"name": "trend"}, "transform": [{"filter": "datum.p == 'plat'"}], "mark": "line"},
   {"data": {"name": "eq"}, "transform": [{"filter": "datum.p == 'plat'"}], "mark": "text", "encoding": {"text": {"field": "label"}}}
  ]}
]
}
